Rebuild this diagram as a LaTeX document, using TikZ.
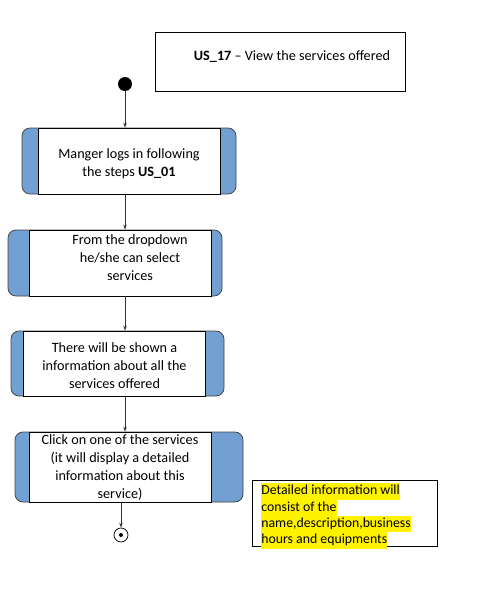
\documentclass[tikz,border=0pt]{standalone}
\usepackage{fontspec}
\setmainfont{Carlito}
\usetikzlibrary{arrows.meta}
\definecolor{barblue}{RGB}{114,160,210}
\newcommand{\hlline}[1]{{\setlength{\fboxsep}{0pt}\colorbox{yellow}{\strut #1}}}
\tikzset{
  bar/.style={fill=barblue, draw=black!75, rounded corners=8pt},
  stepbox/.style={draw, fill=white, inner sep=0pt},
  steptext/.style={align=center, inner sep=0pt, font=\fontsize{14.2}{18}\selectfont},
  flow/.style={-{Stealth[length=5pt,width=3.5pt]}, black!80, line width=0.5pt},
}

\begin{document}
\begin{tikzpicture}[x=1pt, y=-1pt, line width=0.75pt]
\useasboundingbox (0, 0) rectangle (482, 590);
%Title
\node[draw, minimum width=250, minimum height=59] (title) at (280, 61.5) {};
\node[steptext] (titletxt) at (292, 57) {\textbf{US\_17} -- View the services offered};
%Start
\node[circle, fill=black, minimum size=14, inner sep=0] (start) at (125, 84) {};
%Activity 1
\filldraw[bar] (22, 128) rectangle (236, 194);
\node[stepbox, minimum width=182, minimum height=66] (act1) at (129, 161) {};
\node[steptext] (txt1) at (129, 164) {Manger logs in following\\the steps \textbf{US\_01}};
%Activity 2
\filldraw[bar] (8, 230) rectangle (222, 296);
\node[stepbox, minimum width=182, minimum height=66] (act2) at (120, 263) {};
\node[steptext] (txt2) at (130, 258) {From the dropdown\\he/she can select\\services};
%Activity 3
\filldraw[bar] (11, 331) rectangle (224, 396);
\node[stepbox, minimum width=182, minimum height=65] (act3) at (114, 363.5) {};
\node[steptext] (txt3) at (114.5, 366) {There will be shown a\\information about all the\\services offered};
%Activity 4
\filldraw[bar] (15, 432) rectangle (243, 502);
\node[stepbox, minimum width=182, minimum height=70] (act4) at (120, 467) {};
\node[steptext] (txt4) at (120, 468) {Click on one of the services\\(it will display a detailed\\information about this\\service)};
%End
\node[circle, draw, minimum size=14, inner sep=0] (finish) at (121, 535) {};
\node[circle, fill=black, minimum size=4, inner sep=0] (finishdot) at (finish) {};
%Note
\node[draw, minimum width=185, minimum height=66] (note) at (344.5, 513) {};
\node[anchor=north west, align=left, inner sep=0pt, font=\fontsize{13.8}{16.3}\selectfont] (notetxt) at (261, 483) {\hlline{Detailed information will}\\\hlline{consist of the}\\\hlline{name,description,business}\\\hlline{hours and equipments}};
%Flow
\draw[flow] (start) -- (start |- act1.north);
\draw[flow] (act1.south -| start) -- (act2.north -| start);
\draw[flow] (act2.south -| start) -- (act3.north -| start);
\draw[flow] (act3.south -| start) -- (act4.north -| start);
\draw[flow] (act4.south -| finish) -- (finish);
\end{tikzpicture}
\end{document}
